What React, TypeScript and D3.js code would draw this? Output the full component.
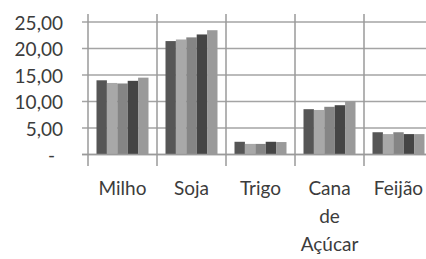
import React from "react";
import * as d3 from "d3";

const categories = ["Milho", "Soja", "Trigo", "Cana de Açúcar", "Feijão"];
const categoryLines = [["Milho"], ["Soja"], ["Trigo"], ["Cana", "de", "Açúcar"], ["Feijão"]];
const series1 = [14.0, 21.4, 2.4, 8.55, 4.2];
const series2 = [13.5, 21.7, 2.0, 8.4, 3.85];
const series3 = [13.4, 22.1, 2.0, 9.0, 4.2];
const series4 = [13.9, 22.65, 2.4, 9.3, 3.85];
const series5 = [14.5, 23.45, 2.35, 10.05, 3.85];
const seriesValues = [series1, series2, series3, series4, series5];
const seriesColors = ["#565656", "#a8a8a8", "#858585", "#454545", "#9a9a9a"];
const yTicks = [0, 5, 10, 15, 20, 25];
const yTickLabels = ["-", "5,00", "10,00", "15,00", "20,00", "25,00"];

const W = 426;
const H = 259;
const FONT = "Lato, 'Open Sans', sans-serif";

export default function App() {
  const x = d3.scaleBand<string>().domain(categories).range([88, 433]).paddingInner(0).paddingOuter(0);
  const inner = d3
    .scaleBand<number>()
    .domain(d3.range(seriesValues.length))
    .range([8.5, x.bandwidth() - 8.5])
    .paddingInner(0);
  const y = d3.scaleLinear().domain([0, 25]).range([154.5, 22]);
  const boundaries = categories.map((c) => x(c) as number);

  return (
    <svg width={W} height={H} style={{ position: "absolute", left: 0, top: 0, background: "#fff" }}>
      <rect x={0} y={0} width={W} height={H} fill="#fff" />
      {/* horizontal gridlines + ticks */}
      {yTicks.map((t) => (
        <line key={"g" + t} x1={82} x2={W} y1={y(t)} y2={y(t)} stroke="#a4a4a4" strokeWidth={1.5} />
      ))}
      {/* vertical category lines */}
      {boundaries.map((b, i) => (
        <line key={"v" + i} x1={b} x2={b} y1={14} y2={166} stroke="#9a9a9a" strokeWidth={1.5} />
      ))}
      {/* bars */}
      {seriesValues.map((vals, s) =>
        vals.map((v, i) => (
          <rect
            key={`b${s}-${i}`}
            x={(x(categories[i]) as number) + (inner(s) as number)}
            y={y(v)}
            width={inner.bandwidth()}
            height={y(0) - y(v)}
            fill={seriesColors[s]}
          />
        ))
      )}
      {/* axis line */}
      <line x1={82} x2={W} y1={y(0)} y2={y(0)} stroke="#9a9a9a" strokeWidth={1.5} />
      {/* y labels */}
      {yTicks.map((t, i) => (
        <text
          key={"yl" + t}
          x={t === 0 ? 55 : 63}
          y={y(t) + 7.5}
          textAnchor="end"
          fontFamily={FONT}
          fontSize={19}
          fill="#3c3c3c"
        >
          {yTickLabels[i]}
        </text>
      ))}
      {/* category labels */}
      {categories.map((c, i) => (
        <text
          key={"xl" + c}
          textAnchor="middle"
          fontFamily={FONT}
          fontSize={19}
          fill="#3c3c3c"
        >
          {categoryLines[i].map((ln, j) => (
            <tspan key={j} x={(x(c) as number) + x.bandwidth() / 2} y={195 + j * 28}>
              {ln}
            </tspan>
          ))}
        </text>
      ))}
    </svg>
  );
}
